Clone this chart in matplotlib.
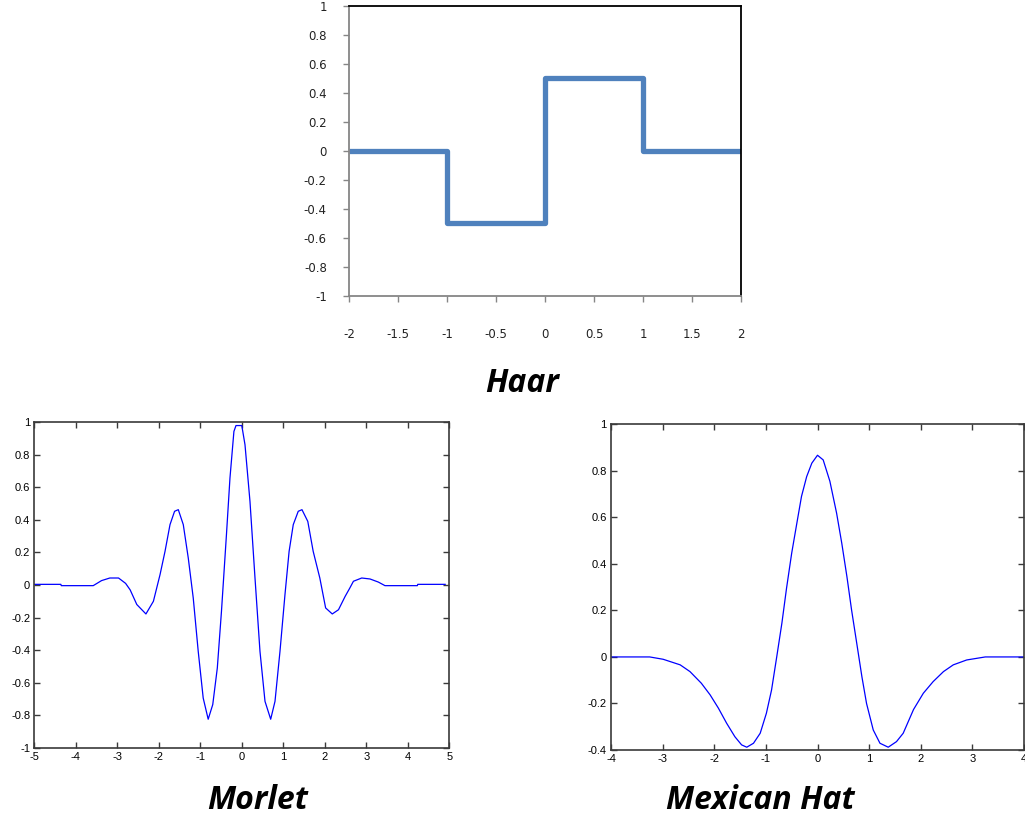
import matplotlib
matplotlib.use("Agg")
import matplotlib.pyplot as plt

# ---- Haar wavelet (step function) ----
haar_x = [-2, -1, -1, 0, 0, 1, 1, 2]
haar_y = [0, 0, -0.5, -0.5, 0.5, 0.5, 0, 0]
haar_xticks = [-2, -1.5, -1, -0.5, 0, 0.5, 1, 1.5, 2]
haar_yticks = [-1, -0.8, -0.6, -0.4, -0.2, 0, 0.2, 0.4, 0.6, 0.8, 1]

# ---- Morlet wavelet samples ----
morlet_x = [-5.0, -4.36, -4.35, -3.58, -3.38, -3.18, -2.97, -2.80, -2.69, -2.53,
            -2.31, -2.13, -1.97, -1.85, -1.73, -1.62, -1.53, -1.41, -1.29, -1.17,
            -1.05, -0.93, -0.81, -0.70, -0.59, -0.49, -0.37, -0.285, -0.19, -0.14,
            0.0, 0.077, 0.197, 0.318, 0.438, 0.559, 0.696, 0.80, 0.92, 1.04,
            1.14, 1.24, 1.36, 1.45, 1.59, 1.72, 1.88, 2.02, 2.18, 2.33,
            2.49, 2.60, 2.69, 2.89, 3.09, 3.29, 3.45, 4.23, 4.24, 4.90]
morlet_y = [0.004, 0.004, -0.004, -0.004, 0.027, 0.043, 0.043, 0.010, -0.030, -0.120,
            -0.178, -0.100, 0.064, 0.207, 0.371, 0.453, 0.463, 0.371, 0.166, -0.080,
            -0.408, -0.695, -0.825, -0.735, -0.510, -0.162, 0.309, 0.658, 0.944, 0.980,
            0.980, 0.862, 0.514, 0.043, -0.408, -0.715, -0.825, -0.715, -0.408, -0.060,
            0.207, 0.371, 0.453, 0.463, 0.391, 0.207, 0.043, -0.141, -0.178, -0.152,
            -0.070, -0.020, 0.023, 0.043, 0.037, 0.018, -0.004, -0.004, 0.004, 0.004]
morlet_xticks = [-5, -4, -3, -2, -1, 0, 1, 2, 3, 4, 5]
morlet_yticks = [-1, -0.8, -0.6, -0.4, -0.2, 0, 0.2, 0.4, 0.6, 0.8, 1]

# ---- Mexican hat wavelet samples ----
mexhat_x = [-4.0, -3.25, -2.99, -2.66, -2.47, -2.25, -2.08, -1.92, -1.76, -1.60,
            -1.47, -1.37, -1.24, -1.11, -0.99, -0.89, -0.79, -0.69, -0.60, -0.50,
            -0.40, -0.31, -0.21, -0.11, 0.0, 0.11, 0.24, 0.37, 0.47, 0.57,
            0.66, 0.76, 0.86, 0.95, 1.08, 1.21, 1.37, 1.53, 1.66, 1.86,
            2.05, 2.24, 2.44, 2.63, 2.89, 3.25, 4.0]
mexhat_y = [0.0, 0.0, -0.010, -0.034, -0.063, -0.113, -0.163, -0.220, -0.285, -0.343,
            -0.378, -0.388, -0.371, -0.328, -0.242, -0.142, 0.0, 0.145, 0.295, 0.446,
            0.575, 0.690, 0.775, 0.833, 0.867, 0.847, 0.755, 0.618, 0.489, 0.345,
            0.202, 0.059, -0.085, -0.200, -0.314, -0.371, -0.388, -0.364, -0.328, -0.226,
            -0.156, -0.106, -0.063, -0.034, -0.013, 0.0, 0.0]
mexhat_xticks = [-4, -3, -2, -1, 0, 1, 2, 3, 4]
mexhat_yticks = [-0.4, -0.2, 0, 0.2, 0.4, 0.6, 0.8, 1]

titles = ["Haar", "Morlet", "Mexican Hat"]

W, H = 1025, 821
fig = plt.figure(figsize=(W / 100, H / 100), dpi=100)


def frac(left, top, right, bottom):
    return [left / W, 1 - bottom / H, (right - left) / W, (bottom - top) / H]


def fmt(v):
    return "%g" % v


# Haar panel
ax1 = fig.add_axes(frac(349, 6, 741, 296))
ax1.plot(haar_x, haar_y, color="#4F81BD", lw=3.8, solid_joinstyle="round",
         solid_capstyle="butt")
ax1.set_xlim(-2, 2)
ax1.set_ylim(-1, 1)
ax1.set_xticks(haar_xticks)
ax1.set_yticks(haar_yticks)
ax1.set_xticklabels([fmt(v) for v in haar_xticks])
ax1.set_yticklabels([fmt(v) for v in haar_yticks])
for s in ("top", "right"):
    ax1.spines[s].set_color("black")
    ax1.spines[s].set_linewidth(1.3)
for s in ("left", "bottom"):
    ax1.spines[s].set_color("#868686")
    ax1.spines[s].set_linewidth(1.3)
ax1.tick_params(axis="y", direction="out", length=4, width=1, color="#868686",
                pad=12, labelsize=8.5)
ax1.tick_params(axis="x", direction="out", length=4, width=1, color="#868686",
                pad=19, labelsize=8.5)
for lab in ax1.get_xticklabels() + ax1.get_yticklabels():
    lab.set_family("DejaVu Sans")
    lab.set_color("#222222")


def matlab_axes(ax, xs, ys, xt, yt, xlim, ylim):
    ax.plot(xs, ys, color="#0000FF", lw=0.9)
    ax.set_xlim(*xlim)
    ax.set_ylim(*ylim)
    ax.set_xticks(xt)
    ax.set_yticks(yt)
    ax.set_xticklabels([fmt(v) for v in xt])
    ax.set_yticklabels([fmt(v) for v in yt])
    for s in ax.spines.values():
        s.set_color("#3a3a3a")
        s.set_linewidth(1.2)
    ax.tick_params(direction="in", length=4, width=1, color="#3a3a3a",
                   top=True, right=True, labelsize=8, pad=3)
    for lab in ax.get_xticklabels() + ax.get_yticklabels():
        lab.set_family("Liberation Sans")
        lab.set_color("black")


ax2 = fig.add_axes(frac(34.3, 422.3, 449.3, 747.7))
matlab_axes(ax2, morlet_x, morlet_y, morlet_xticks, morlet_yticks, (-5, 5), (-1, 1))

ax3 = fig.add_axes(frac(611, 424.3, 1024, 750))
matlab_axes(ax3, mexhat_x, mexhat_y, mexhat_xticks, mexhat_yticks, (-4, 4), (-0.4, 1))

title_kw = dict(fontsize=23, fontweight="bold", fontstyle="italic",
                family="Open Sans", ha="center", va="center", color="black")
fig.text(522 / W, 1 - 383 / H, titles[0], **title_kw)
fig.text(258 / W, 1 - 800 / H, titles[1], **title_kw)
fig.text(760 / W, 1 - 800 / H, titles[2], **title_kw)

fig.savefig("out.png", dpi=100, facecolor="white")
